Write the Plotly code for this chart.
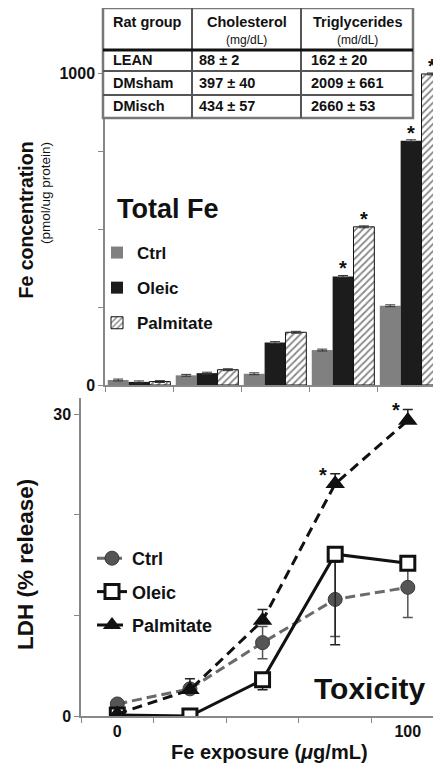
import plotly.graph_objects as go

# ---------------- data ----------------
exposure_idx = [0, 1, 2, 3, 4]
exposure_ticktext = ["0", "", "", "", "100"]

fe_ctrl = [16, 31, 36, 112, 254]
fe_oleic = [10, 38, 136, 348, 783]
fe_palm = [11, 49, 169, 507, 997]
fe_err = [3, 3, 3, 3, 3]
fe_sig_oleic = [False, False, False, True, True]
fe_sig_palm = [False, False, False, True, True]

ldh_ctrl = [1.2, 2.7, 7.3, 11.6, 12.8]
ldh_ctrl_err = [0, 0, 1.6, 3.7, 3.0]
ldh_oleic = [0.1, 0.0, 3.6, 16.1, 15.2]
ldh_oleic_err = [0, 0, 1.0, 9.0, 0]
ldh_palm = [0.2, 2.6, 9.5, 23.1, 29.4]
ldh_palm_err = [0, 1.1, 1.1, 1.0, 1.1]
ldh_sig_palm = [False, False, False, True, True]

table_header = ["Rat group", "Cholesterol", "Triglycerides"]
table_units = ["", "(mg/dL)", "(md/dL)"]
table_groups = ["LEAN", "DMsham", "DMisch"]
table_chol = ["88 ± 2", "397 ± 40", "434 ± 57"]
table_trig = ["162 ± 20", "2009 ± 661", "2660 ± 53"]

# ---------------- styling ----------------
W, H = 441, 770
OFF = 8  # page body margin: figure is drawn 8px right/down in the window
FONT = "Liberation Sans, Arial, sans-serif"
INK = "#111111"


def px(x):
    return (x - OFF) / W


def py(y):
    return 1 - (y - OFF) / H


def label(x, y, text, size, **kw):
    d = dict(x=px(x), y=py(y), xref="paper", yref="paper", text=text, showarrow=False,
             xanchor="center", yanchor="middle", font=dict(size=size, family=FONT, color=INK))
    d.update(kw)
    return d


fig = go.Figure()

# ---------- top: Total Fe bars ----------
err_style = dict(type="data", array=fe_err, color="#333", thickness=1, width=5)
fig.add_trace(go.Bar(
    x=exposure_idx, y=fe_ctrl, name="Ctrl", marker=dict(color="#808080", line=dict(width=0)),
    error_y=err_style, xaxis="x", yaxis="y", legend="legend", legendgroup="a"))
fig.add_trace(go.Bar(
    x=exposure_idx, y=fe_oleic, name="Oleic", marker=dict(color="#1c1c1c", line=dict(width=0)),
    error_y=err_style, xaxis="x", yaxis="y", legend="legend", legendgroup="b"))
fig.add_trace(go.Bar(
    x=exposure_idx, y=fe_palm, name="Palmitate",
    marker=dict(color="white", line=dict(color=INK, width=1),
                pattern=dict(shape="/", fgcolor=INK, bgcolor="white", size=5, solidity=0.35)),
    error_y=err_style, xaxis="x", yaxis="y", legend="legend", legendgroup="c"))

# ---------- bottom: LDH lines ----------
fig.add_trace(go.Scatter(
    x=exposure_idx, y=ldh_ctrl, name="Ctrl", mode="lines+markers",
    line=dict(color="#6a6a6a", width=3, dash="10px,5px"),
    marker=dict(symbol="circle", size=14, color="#555555", line=dict(color="#3a3a3a", width=1)),
    error_y=dict(type="data", array=ldh_ctrl_err, color="#555", thickness=1.5, width=5),
    xaxis="x2", yaxis="y2", legend="legend2", legendgroup="d"))
fig.add_trace(go.Scatter(
    x=exposure_idx, y=ldh_oleic, name="Oleic", mode="lines+markers",
    line=dict(color=INK, width=3),
    marker=dict(symbol="square", size=14, color="white", line=dict(color=INK, width=3)),
    error_y=dict(type="data", symmetric=False, array=[0] * 5, arrayminus=ldh_oleic_err,
                 color="#222", thickness=1.5, width=5),
    xaxis="x2", yaxis="y2", legend="legend2", legendgroup="e"))
fig.add_trace(go.Scatter(
    x=exposure_idx, y=ldh_palm, name="Palmitate", mode="lines+markers",
    line=dict(color=INK, width=3, dash="10px,6px"),
    marker=dict(symbol="triangle-up", size=17, color=INK, line=dict(width=0)),
    error_y=dict(type="data", symmetric=False, array=ldh_palm_err, arrayminus=[0] * 5,
                 color="#222", thickness=1.5, width=5),
    xaxis="x2", yaxis="y2", legend="legend2", legendgroup="f"))

annotations = []
star_font = dict(size=20, family=FONT, color=INK)
bar_w = 0.92 / 3
for i, (s, v, e) in enumerate(zip(fe_sig_oleic, fe_oleic, fe_err)):
    if s:
        annotations.append(dict(x=i, y=v + e, xref="x", yref="y", text="<b>*</b>", showarrow=False,
                                xanchor="center", yanchor="bottom", font=star_font, yshift=-6))
for i, (s, v, e) in enumerate(zip(fe_sig_palm, fe_palm, fe_err)):
    if s:
        annotations.append(dict(x=i + bar_w, y=v + e, xref="x", yref="y", text="<b>*</b>", showarrow=False,
                                xanchor="center", yanchor="bottom", font=star_font, yshift=-6))
for i, (s, v, e) in enumerate(zip(ldh_sig_palm, ldh_palm, ldh_palm_err)):
    if s:
        annotations.append(dict(x=i, y=v + e, xref="x2", yref="y2", text="<b>*</b>", showarrow=False,
                                xanchor="center", yanchor="bottom", xshift=-12, yshift=-14, font=star_font))

# titles / labels
annotations += [
    label(168, 209, "<b>Total Fe</b>", 27),
    label(369, 688, "<b>Toxicity</b>", 30),
    label(25, 140, "<b>Fe concentration</b>", 19.5, textangle=-90, yanchor="top"),
    label(45, 140, "(pmol/ug protein)", 13.5, textangle=-90, yanchor="top"),
    label(25, 565, "<b>LDH (% release)</b>", 22.5, textangle=-90),
    label(269, 752, "<b>Fe exposure (<i>μ</i>g/mL)</b>", 20),
]

# ---------- table ----------
tx0, tx1, ty0, ty1 = 103, 413, 8, 118
col_x = [103, 192, 301, 413]
row_y = [8, 50, 71, 95, 118]
shapes = [
    dict(type="rect", xref="paper", yref="paper", x0=px(tx0), x1=px(tx1), y0=py(ty0), y1=py(ty1),
         fillcolor="white", line=dict(color="#777", width=2.5), layer="above"),
]
for cx in col_x[1:-1]:
    shapes.append(dict(type="line", xref="paper", yref="paper", x0=px(cx), x1=px(cx), y0=py(ty0), y1=py(ty1),
                       line=dict(color="#555", width=2), layer="above"))
shapes.append(dict(type="line", xref="paper", yref="paper", x0=px(tx0), x1=px(tx1), y0=py(row_y[1]),
                   y1=py(row_y[1]), line=dict(color=INK, width=3), layer="above"))
for ry in row_y[2:4]:
    shapes.append(dict(type="line", xref="paper", yref="paper", x0=px(tx0), x1=px(tx1), y0=py(ry), y1=py(ry),
                       line=dict(color="#555", width=2), layer="above"))

annotations.append(label(111, 22, "<b>" + table_header[0] + "</b>", 14.5, xanchor="left"))
for j, cx in enumerate([(col_x[1] + col_x[2]) / 2, (col_x[2] + col_x[3]) / 2]):
    annotations.append(label(cx, 22, "<b>" + table_header[j + 1] + "</b>", 14.5))
    annotations.append(label(cx, 40, table_units[j + 1], 12))
for r in range(3):
    yy = (row_y[r + 1] + row_y[r + 2]) / 2
    for cx, col in zip([111, 197, 309], [table_groups, table_chol, table_trig]):
        annotations.append(label(cx, yy, "<b>" + col[r] + "</b>", 14.5, xanchor="left"))

axis_font = dict(size=16, family=FONT, color=INK, weight="bold")
fig.update_layout(
    width=W, height=H, margin=dict(l=0, r=0, t=0, b=0, autoexpand=False),
    paper_bgcolor="white", plot_bgcolor="white",
    barmode="group", bargap=0.08, bargroupgap=0,
    font=dict(family=FONT, color=INK),
    xaxis=dict(domain=[px(105), px(441)], range=[-0.5, 4.44], anchor="y", showgrid=False, zeroline=False,
               showline=True, linecolor="#888", linewidth=1.5,
               tickvals=[-0.5, 0.5, 1.5, 2.5, 3.5], ticks="outside", ticklen=5, tickcolor="#888",
               showticklabels=False),
    yaxis=dict(domain=[py(385), py(41.8)], range=[0, 1100], anchor="x", showgrid=False, zeroline=False,
               showline=True, linecolor="#888", linewidth=1.5,
               tickvals=[0, 1000], ticktext=["0", "1000"], ticks="outside", ticklen=5, tickcolor="#888",
               tickfont=axis_font,
               minor=dict(tickvals=[250, 500, 750], ticks="outside", ticklen=5, tickcolor="#888")),
    xaxis2=dict(domain=[px(81), px(441)], range=[-0.5, 4.457], anchor="y2", showgrid=False, zeroline=False,
                showline=True, linecolor="#888", linewidth=1.5,
                tickvals=exposure_idx, ticktext=exposure_ticktext, ticks="", tickfont=axis_font,
                minor=dict(tickvals=[-0.5, 0.5, 1.5, 2.5, 3.5], ticks="outside", ticklen=5, tickcolor="#888")),
    yaxis2=dict(domain=[py(716), py(398)], range=[0, 31.64], anchor="x2", showgrid=False, zeroline=False,
                showline=True, linecolor="#888", linewidth=1.5,
                tickvals=[0, 10, 20, 30], ticktext=["0", "", "", "30"], ticks="outside", ticklen=5,
                tickcolor="#888", tickfont=axis_font),
    legend=dict(x=px(97), y=py(235), xanchor="left", yanchor="top", bgcolor="rgba(0,0,0,0)",
                font=dict(size=17, family=FONT, color=INK, weight="bold"), tracegroupgap=10,
                itemwidth=30),
    legend2=dict(x=px(92), y=py(540), xanchor="left", yanchor="top", bgcolor="rgba(0,0,0,0)",
                 font=dict(size=18, family=FONT, color=INK, weight="bold"), tracegroupgap=7,
                 itemwidth=30),
    showlegend=True,
    annotations=annotations, shapes=shapes,
)

fig.write_html("out.html")
